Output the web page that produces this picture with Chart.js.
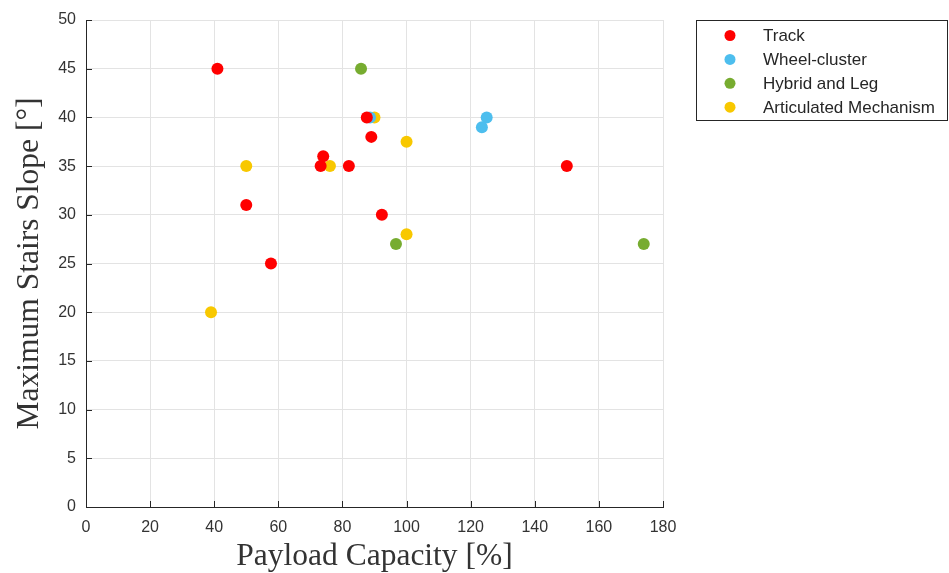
<!DOCTYPE html>
<html><head><meta charset="utf-8">
<script src="https://cdn.jsdelivr.net/npm/chart.js@4.4.1/dist/chart.umd.min.js"></script>
<style>html,body{margin:0;padding:0;background:#fff;}#wrap{width:949px;height:573px;}</style>
</head><body><div id="wrap"><canvas id="c" width="949" height="573"></canvas></div>
<script>
const seriesNames = ["Track", "Wheel-cluster", "Hybrid and Leg", "Articulated Mechanism"];
const seriesColors = ["#ff0000", "#4dbeee", "#77ac30", "#f8c800"];
const trackX = [41, 87.6, 89, 74, 73.2, 82, 50, 92.3, 57.7, 150];
const trackY = [45, 40, 38, 36, 35, 35, 31, 30, 25, 35];
const wheelX = [88.6, 125, 123.5];
const wheelY = [40, 40, 39];
const hybridX = [85.8, 96.7, 174];
const hybridY = [45, 27, 27];
const artX = [90, 100, 50, 76.1, 100, 39];
const artY = [40, 37.5, 35, 35, 28, 20];
const xTicks = [0,20,40,60,80,100,120,140,160,180];
const yTicks = [0,5,10,15,20,25,30,35,40,45,50];

const xs = [trackX, wheelX, hybridX, artX];
const ys = [trackY, wheelY, hybridY, artY];
const datasets = seriesNames.map((n,i)=>({
  label:n,
  data: xs[i].map((x,j)=>({x:x, y:ys[i][j]})),
  backgroundColor: seriesColors[i],
  borderColor: seriesColors[i],
  pointRadius: 6, pointHoverRadius: 6, borderWidth: 0
}));

const AX = "#262626";
const tickPlugin = {
  id:'inTicks',
  afterDatasetsDraw(chart){
    const ctx = chart.ctx, a = chart.chartArea;
    const sx = chart.scales.x, sy = chart.scales.y;
    ctx.save();
    ctx.strokeStyle = AX; ctx.lineWidth = 1;
    ctx.beginPath();
    xTicks.forEach(v=>{const p=Math.round(sx.getPixelForValue(v))+0.5; ctx.moveTo(p,a.bottom); ctx.lineTo(p,a.bottom-6);});
    yTicks.forEach(v=>{const p=Math.round(sy.getPixelForValue(v))+0.5; ctx.moveTo(a.left,p); ctx.lineTo(a.left+6,p);});
    ctx.stroke();
    ctx.restore();
  }
};
const legendPlugin = {
  id:'boxLegend',
  afterDraw(chart){
    const ctx = chart.ctx;
    const bx=696.5, by=20.5, bw=251, bh=100;
    ctx.save();
    ctx.fillStyle='#fff'; ctx.fillRect(bx,by,bw,bh);
    ctx.strokeStyle='#262626'; ctx.lineWidth=1; ctx.strokeRect(bx,by,bw,bh);
    ctx.font = '17px "Liberation Sans", Arial, sans-serif';
    ctx.textBaseline='middle';
    chart.data.datasets.forEach((d,i)=>{
      const yy = 35.5 + i*23.9;
      ctx.fillStyle = d.backgroundColor;
      ctx.beginPath(); ctx.arc(730, yy, 5.5, 0, Math.PI*2); ctx.fill();
      ctx.fillStyle = '#262626';
      ctx.fillText(d.label, 763, yy+1);
    });
    ctx.restore();
  }
};

new Chart(document.getElementById('c'), {
  type:'scatter',
  data:{datasets},
  options:{
    responsive:false, animation:false,
    layout:{padding:{top:20,right:286,left:0,bottom:0}},
    plugins:{legend:{display:false}, tooltip:{enabled:false}},
    scales:{
      x:{
        type:'linear', min:0, max:180,
        afterBuildTicks(s){ s.ticks = xTicks.map(v=>({value:v})); },
        afterFit(s){ s.height = 66; },
        grid:{color:'#e3e3e3', drawTicks:false, tickLength:0, lineWidth:1},
        border:{color:AX, width:1},
        ticks:{color:'#333', font:{family:'"Liberation Sans", Arial, sans-serif', size:16}, padding:11, maxRotation:0},
        title:{display:true, text:'Payload Capacity [%]', color:'#333', font:{family:'"Liberation Serif", "Times New Roman", serif', size:31.5}, padding:{top:0,bottom:-3}}
      },
      y:{
        type:'linear', min:0, max:50,
        afterBuildTicks(s){ s.ticks = yTicks.map(v=>({value:v})); },
        afterFit(s){ s.width = 86; },
        grid:{color:'#e3e3e3', drawTicks:false, tickLength:0, lineWidth:1},
        border:{color:AX, width:1},
        ticks:{color:'#333', font:{family:'"Liberation Sans", Arial, sans-serif', size:16}, padding:10},
        title:{display:true, text:'Maximum Stairs Slope [°]', color:'#333', font:{family:'"Liberation Serif", "Times New Roman", serif', size:31.5}, padding:{top:11,bottom:0}}
      }
    }
  },
  plugins:[tickPlugin, legendPlugin]
});
</script></body></html>
